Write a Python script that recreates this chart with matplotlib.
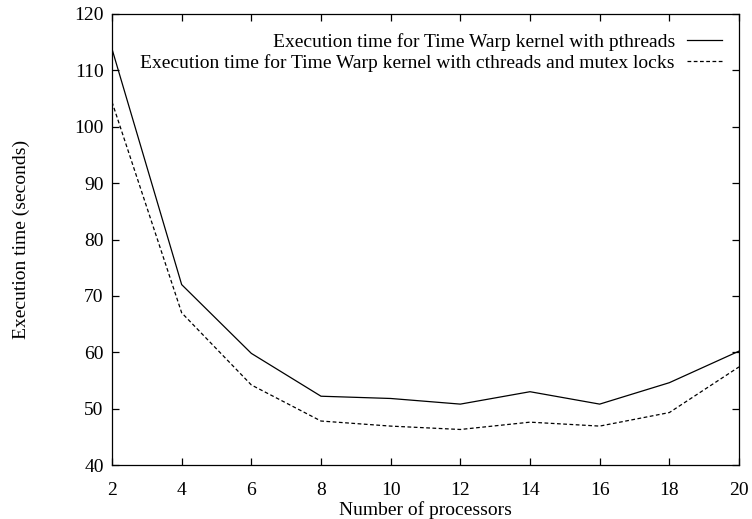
import numpy as np
import matplotlib.pyplot as plt

plt.rcParams['font.family'] = ['Liberation Serif', 'DejaVu Serif']

processors = [2, 4, 6, 8, 10, 12, 14, 16, 18, 20]
time_pthreads = [113.8, 72.0, 59.8, 52.2, 51.8, 50.8, 53.0, 50.8, 54.6, 60.2]
time_cthreads = [104.4, 67.0, 54.2, 47.8, 46.9, 46.3, 47.6, 46.9, 49.3, 57.4]

label_p = "Execution time for Time Warp kernel with pthreads"
label_c = "Execution time for Time Warp kernel with cthreads and mutex locks"

fig = plt.figure(figsize=(7.52, 5.19), dpi=100)
ax = fig.add_axes([112 / 752, 1 - 465 / 519, (739 - 112) / 752, (465 - 14) / 519])

ax.plot(processors, time_pthreads, color='black', linewidth=0.9, label=label_p)
ax.plot(processors, time_cthreads, color='black', linewidth=0.9,
        linestyle=(0, (3, 2)), label=label_c)

ax.set_xlim(2, 20)
ax.set_ylim(40, 120)
ax.set_xticks(np.arange(2, 21, 2))
ax.set_yticks(np.arange(40, 121, 10))
ax.tick_params(direction='in', top=True, right=True, length=5, width=0.9,
               labelsize=14)
ax.tick_params(axis='x', pad=12)
ax.tick_params(axis='y', pad=6)
for s in ax.spines.values():
    s.set_linewidth(0.9)

ax.set_xlabel("Number of processors", fontsize=14, labelpad=2)
ax.set_ylabel("Execution time (seconds)", fontsize=14)
ax.yaxis.set_label_coords(-82 / 627, 0.5)

ax.legend(loc='upper right', frameon=False, markerfirst=False, fontsize=14,
          handlelength=1.8, handletextpad=0.62, labelspacing=0.15,
          borderaxespad=0, borderpad=0,
          bbox_to_anchor=(722 / 627 - 112 / 627, 1 - 19 / 451))

fig.savefig("out.png", dpi=100)
